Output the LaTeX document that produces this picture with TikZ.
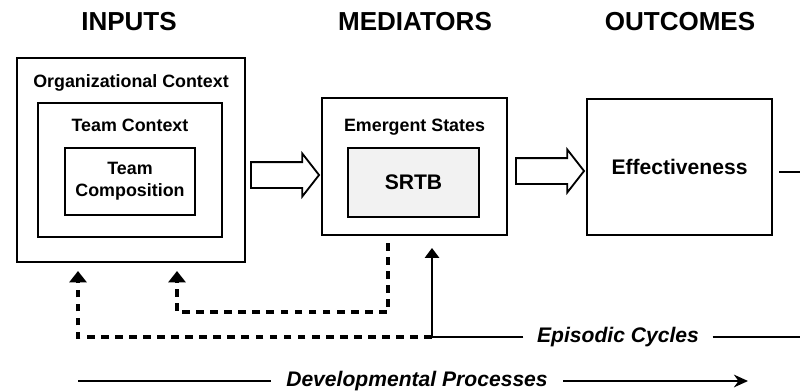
\documentclass[tikz,border=0pt]{standalone}
\usepackage{fontspec}
\setmainfont{Liberation Sans}
\usepackage{tikz}
\usetikzlibrary{arrows.meta,shapes.arrows,calc}

\tikzset{
  box/.style={draw,line width=1.3pt,inner sep=0pt},
  colhead/.style={font=\fontsize{18.5}{20}\selectfont\bfseries,inner sep=0pt},
  lab/.style={font=\fontsize{12.7}{15.6}\selectfont\bfseries,align=center,inner sep=0pt},
  biglab/.style={font=\fontsize{15}{18}\selectfont\bfseries,inner sep=0pt},
  proc/.style={font=\fontsize{15}{18}\selectfont\bfseries\itshape,inner ysep=0pt},
  fb/.style={line width=2.2pt,dash pattern=on 5.5pt off 4.5pt,-{Triangle[width=12pt,length=8pt]}},
  cyc/.style={line width=1.6pt},
  hollow/.style={single arrow,draw,line width=1.3pt,inner xsep=0pt,inner ysep=0.3cm,
    minimum height=1.7cm,
    single arrow head extend=0.2125cm,single arrow tip angle=104}
}

\begin{document}
\begin{tikzpicture}[x=0.025cm,y=-0.025cm]
\useasboundingbox (0,0) rectangle (800,391);

% column headers
\node[colhead] (hin) at (129,22) {INPUTS};
\node[colhead] (hmed) at (415,22) {MEDIATORS};
\node[colhead] (hout) at (680,22) {OUTCOMES};

% inputs, three nested boxes
\node[box,minimum width=5.7cm,minimum height=5.1cm] (org) at (131,160) {};
\node[lab] (orglab) at (131,83) {Organizational Context};
\node[box,minimum width=4.6cm,minimum height=3.35cm] (tctx) at (130,170) {};
\node[lab] (tctxlab) at (130,125) {Team Context};
\node[box,lab,minimum width=3.25cm,minimum height=1.675cm] (comp) at (130,181.5) {Team\\Composition};

% mediators
\node[box,minimum width=4.625cm,minimum height=3.425cm] (med) at (414.5,166.5) {};
\node[lab] (medlab) at (414.5,127) {Emergent States};
\node[box,biglab,fill=gray!10,minimum width=3.275cm,minimum height=1.725cm] (srtb) at (413.5,182.5) {SRTB};

% outcomes
\node[box,biglab,minimum width=4.625cm,minimum height=3.4cm] (eff) at (679.5,167) {Effectiveness};

% hollow arrows between columns
\node[hollow] (arrA) at (280,175) {};
\node[hollow] (arrB) at (545,171) {};

% points at the picture border and arrow ends
\coordinate (effout) at (779,172);
\coordinate (edgeA) at (800,172);
\coordinate (edgeB) at (800,337);
\coordinate (epc) at (432,337);
\coordinate (tC) at (432,248);
\coordinate (dA) at (388,243);
\coordinate (tA) at (177,271);
\coordinate (tB) at (78,271);
\coordinate (devS) at (78,381);
\coordinate (devE) at (748,381);

\draw[cyc] (effout) -- (edgeA);

% episodic cycles
\node[proc,inner xsep=9.5pt] (eplab) at (618,337) {Episodic Cycles};
\draw[cyc] (eplab.east) -- (edgeB);
\draw[cyc,-{Triangle[width=10pt,length=7pt]}] (eplab.west) -- (epc) -- (tC);

% dashed feedback
\draw[fb] (dA) -- ++(0,69) -| (tA);
\draw[fb] (epc) -| (tB);

% developmental processes
\node[proc,inner xsep=11pt] (dev) at (417,381) {Developmental Processes};
\draw[cyc] (devS) -- (dev.west);
\draw[cyc,-{Stealth[length=10pt,width=9pt]}] (dev.east) -- (devE);
\end{tikzpicture}
\end{document}
